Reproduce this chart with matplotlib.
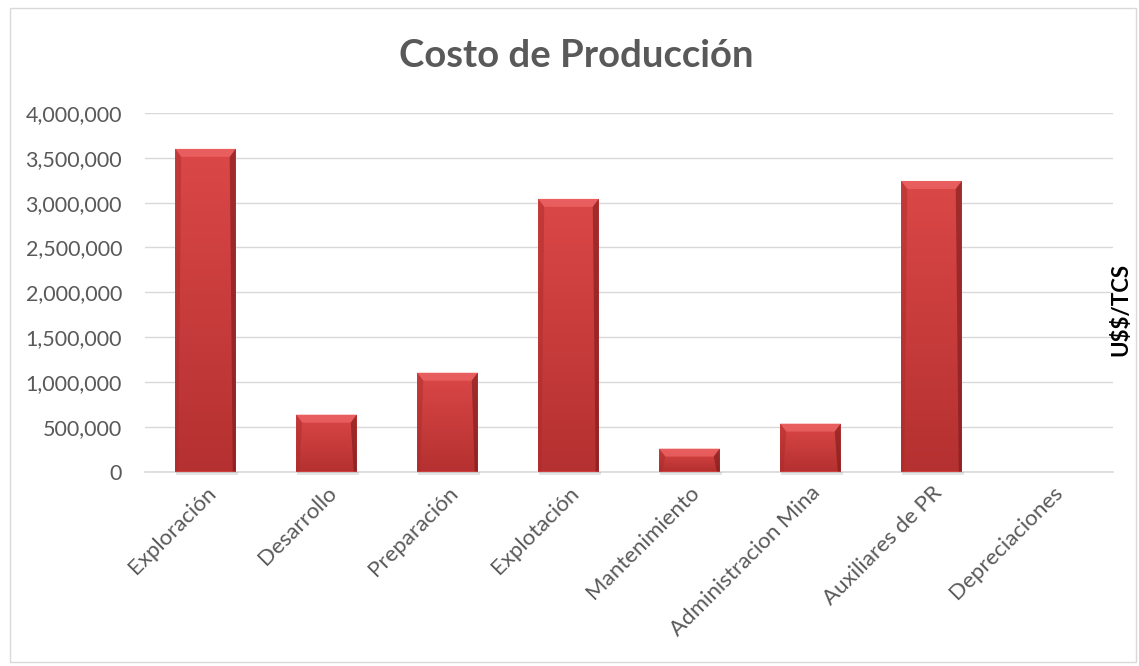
import numpy as np
import matplotlib
matplotlib.use("Agg")
import matplotlib.pyplot as plt
from matplotlib.patches import Polygon, Rectangle
from matplotlib.transforms import IdentityTransform
from matplotlib.ticker import FuncFormatter, MultipleLocator

categories = ["Exploración", "Desarrollo", "Preparación", "Explotación",
              "Mantenimiento", "Administracion Mina", "Auxiliares de PR",
              "Depreciaciones"]
costs = [3600000, 635000, 1103000, 3042000, 256000, 535000, 3242000, 0]

title = "Costo de Producción"
ylabel = "U$$/TCS"

plt.rcParams["font.family"] = ["Lato", "DejaVu Sans"]
TXT = "#595959"
GRID = "#d9d9d9"

W, H, DPI = 1139, 666, 100
fig = plt.figure(figsize=(W / DPI, H / DPI), dpi=DPI)
fig.patch.set_facecolor("white")

# chart frame
fig.patches.append(Rectangle((10 / W, 4 / H), 1126 / W, 654 / H,
                             transform=fig.transFigure, fill=False,
                             edgecolor=GRID, lw=1.0))

ax = fig.add_axes([145 / W, (H - 471.5) / H, 968 / W, 358.5 / H])
x = np.arange(len(categories))
bars = ax.bar(x, costs, width=0.5, color="#d24040", zorder=3, linewidth=0)

ax.set_xlim(-0.5, len(categories) - 0.5)
ax.set_ylim(0, 4000000)
ax.yaxis.set_major_locator(MultipleLocator(500000))
ax.yaxis.set_major_formatter(FuncFormatter(lambda v, p: f"{int(v):,}"))
ax.grid(axis="y", color=GRID, lw=1.0, zorder=0)
for s in ["top", "right", "left"]:
    ax.spines[s].set_visible(False)
ax.spines["bottom"].set_color(GRID)
ax.spines["bottom"].set_linewidth(1.2)
ax.tick_params(length=0, colors=TXT, labelsize=15.5)
ax.tick_params(axis="y", pad=16.5)
ax.set_xticks(x)
ax.set_xticklabels(categories, rotation=45, ha="right",
                   rotation_mode="anchor", fontsize=16, color=TXT)
ax.tick_params(axis="x", pad=8)

fig.text(576 / W, (H - 56) / H, title, fontsize=27.5, fontweight="bold",
         color=TXT, ha="center", va="center")
fig.text(1121 / W, (H - 309) / H, ylabel, rotation=90, fontsize=16,
         fontweight="bold", color="black", ha="center", va="center",
         parse_math=False)

# bevelled gradient on each bar, built from the bar geometry
fig.canvas.draw()
ident = IdentityTransform()
grad = np.linspace(0, 1, 256).reshape(-1, 1)
top_c = np.array([0.86, 0.28, 0.28])
bot_c = np.array([0.71, 0.19, 0.19])
for b in bars:
    bb = b.get_window_extent()
    if bb.height < 1:
        continue
    x0, x1, y0, y1 = bb.x0, bb.x1, bb.y0, bb.y1
    # soft shadow below the bar
    fig.patches.append(Rectangle((x0 + 1, y0 - 3), x1 - x0 + 1, 3,
                                 transform=ident, facecolor="#000000",
                                 alpha=0.10, lw=0, zorder=2))
    img = top_c * (1 - grad[:, :, None]) + bot_c * grad[:, :, None]
    im = ax.imshow(img, extent=(b.get_x(), b.get_x() + b.get_width(),
                                0, b.get_height()),
                   aspect="auto", origin="upper", zorder=4)
    im.set_clip_path(b)
    d = min(8, bb.height / 2)
    e = 6
    # top bevel (light)
    ax.add_patch(Polygon([(x0, y1), (x1, y1), (x1 - e, y1 - d), (x0 + e, y1 - d)],
                         closed=True, transform=ident, facecolor="#ee6666",
                         alpha=0.75, lw=0, zorder=5))
    # left edge (slightly dark)
    ax.add_patch(Polygon([(x0, y1), (x0 + e, y1 - d), (x0 + 3, y0), (x0, y0)],
                         closed=True, transform=ident, facecolor="#a82a2a",
                         alpha=0.45, lw=0, zorder=5))
    # right edge (dark)
    ax.add_patch(Polygon([(x1, y1), (x1 - e, y1 - d), (x1 - 3, y0), (x1, y0)],
                         closed=True, transform=ident, facecolor="#7a1a1a",
                         alpha=0.6, lw=0, zorder=5))

fig.savefig("out.png", dpi=DPI, facecolor="white")
